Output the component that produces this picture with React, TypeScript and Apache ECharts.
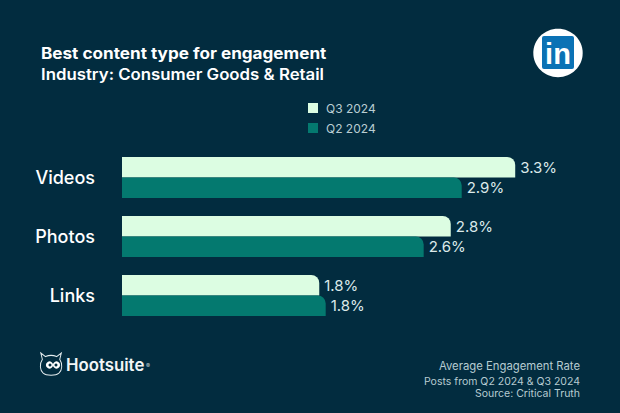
import React, { useEffect, useRef } from "react";
import * as echarts from "echarts";

const categories = ["Videos", "Photos", "Links"];
const q3Values = [3.3, 2.8, 1.78];
const q2Values = [2.885, 2.59, 1.83];
const seriesNames = ["Q3 2024", "Q2 2024"];
const titleLines = ["Best content type for engagement", "Industry: Consumer Goods & Retail"];
const footerLines = ["Average Engagement Rate", "Posts from Q2 2024 & Q3 2024", "Source: Critical Truth"];

const BG = "#022c3f";
const LIGHT = "#dcfde2";
const TEAL = "#04796f";
const FONT = "Inter, 'Noto Sans', sans-serif";

const OWL = "M1 1 L7 5 C11 3.5 17 3.5 21 5 L27 1 L25 8 C29 13 28 20 24 23 C20 26 8 26 4 23 C0 20 -1 13 3 8 Z";
echarts.graphic.registerShape("owl", echarts.graphic.extendPath(OWL, {}) as any);

export default function App() {
  const ref = useRef<HTMLDivElement>(null);
  useEffect(() => {
    document.body.style.margin = "0";
    document.body.style.background = BG;
    const chart = echarts.init(ref.current!, undefined, { renderer: "svg" });
    const labelStyle = {
      show: true,
      position: "right" as const,
      distance: 5,
      color: "#dbe9ea",
      fontFamily: FONT,
      fontSize: 15,
      formatter: (p: any) => `${p.value.toFixed(1)}%`,
    };
    chart.setOption({
      animation: false,
      backgroundColor: BG,
      grid: { left: 122, top: 148, width: 419, height: 177 },
      legend: {
        orient: "vertical",
        left: 303,
        top: 97,
        itemWidth: 10,
        itemHeight: 10,
        itemGap: 8,
        icon: "rect",
        data: seriesNames,
        textStyle: { color: "#b9cdd2", fontFamily: FONT, fontSize: 12, padding: [0, 0, 0, 3] },
      },
      xAxis: { type: "value", min: 0.25, max: 3.5, show: false },
      yAxis: {
        type: "category",
        data: categories,
        inverse: true,
        axisLine: { show: false },
        axisTick: { show: false },
        axisLabel: { color: "#ffffff", fontFamily: FONT, fontSize: 18, fontWeight: 500, margin: 27 },
      },
      series: [
        {
          name: seriesNames[0], type: "bar", data: q3Values, barWidth: 20.5, barGap: 0,
          itemStyle: { color: LIGHT, borderRadius: [0, 8, 0, 0] }, label: labelStyle,
        },
        {
          name: seriesNames[1], type: "bar", data: q2Values, barWidth: 20.5,
          itemStyle: { color: TEAL, borderRadius: [0, 8, 0, 0] }, label: labelStyle,
        },
      ],
      graphic: [
        { type: "text", x: 41, y: 45, scaleX: 1.105, style: { text: titleLines[0], fill: "#fff", font: `700 15.5px ${FONT}` } },
        { type: "text", x: 41, y: 66, scaleX: 1.084, style: { text: titleLines[1], fill: "#fff", font: `600 15.5px ${FONT}` } },
        { type: "ellipse", shape: { cx: 558, cy: 53, rx: 24.7, ry: 24.2 }, style: { fill: "#fff" } },
        { type: "rect", shape: { x: 542, y: 36, width: 32, height: 33, r: 2 }, style: { fill: "#0b72b5" } },
        { type: "text", x: 558, y: 39, style: { text: "in", fill: "#fff", font: `700 29px 'Liberation Sans', sans-serif`, align: "center" } },
        { type: "owl", x: 40, y: 352, scaleX: 0.79, scaleY: 0.92, style: { fill: "none", stroke: "#e6eef0", lineWidth: 1.2 } },
        { type: "circle", shape: { cx: 49.5, cy: 365, r: 3.6 }, style: { fill: "#fff" } },
        { type: "circle", shape: { cx: 56.5, cy: 365, r: 3.6 }, style: { fill: "#fff" } },
        { type: "circle", shape: { cx: 50, cy: 365, r: 1.5 }, style: { fill: BG } },
        { type: "circle", shape: { cx: 56, cy: 365, r: 1.5 }, style: { fill: BG } },
        { type: "text", x: 66, y: 356, style: { text: "Hootsuite", fill: "#f2f6f7", font: `600 16.8px ${FONT}` } },
        { type: "text", x: 146, y: 362, style: { text: "®", fill: "#c5d4d8", font: `400 6px ${FONT}` } },
        { type: "text", x: 580, y: 360, style: { text: footerLines[0], fill: "#b6cbd1", font: `400 11.3px ${FONT}`, align: "right" } },
        { type: "text", x: 580, y: 376, style: { text: footerLines[1], fill: "#b6cbd1", font: `400 10.5px ${FONT}`, align: "right" } },
        { type: "text", x: 580, y: 388, style: { text: footerLines[2], fill: "#b6cbd1", font: `400 10.5px ${FONT}`, align: "right" } },
      ],
    });
    return () => chart.dispose();
  }, []);
  return <div ref={ref} style={{ width: 620, height: 413 }} />;
}
